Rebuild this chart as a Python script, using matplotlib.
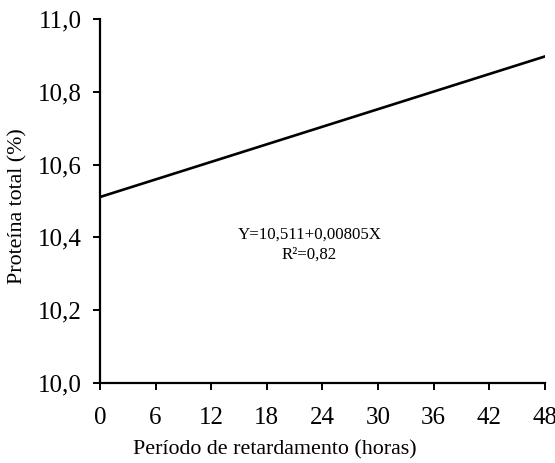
import matplotlib
matplotlib.use("Agg")
import matplotlib.pyplot as plt
import numpy as np

# fitted regression: protein (%) vs. delay period (hours)
intercept = 10.511
slope = 0.00805
r2 = 0.82
hours = np.arange(0, 49)
x_ticks = [0, 6, 12, 18, 24, 30, 36, 42, 48]
y_ticks = [10.0, 10.2, 10.4, 10.6, 10.8, 11.0]

plt.rcParams['font.family'] = ['Liberation Serif', 'DejaVu Serif']

fig = plt.figure(figsize=(5.55, 4.63), dpi=100)
ax = fig.add_axes([0.180, 0.1728, 0.802, 0.786])

ax.plot(hours, intercept + slope * hours, color='black', lw=1.9)

ax.set_xlim(0, 48)
ax.set_ylim(10.0, 11.0)
ax.set_xticks(x_ticks)
ax.set_yticks(y_ticks)
ax.set_yticklabels([f"{v:.1f}".replace('.', ',') for v in y_ticks])
ax.tick_params(direction='out', length=5, width=1.4, labelsize=18)
ax.tick_params(axis='x', pad=12)
ax.tick_params(axis='y', pad=8)

for s in ['top', 'right']:
    ax.spines[s].set_visible(False)
for s in ['left', 'bottom']:
    ax.spines[s].set_linewidth(1.6)

ax.set_xlabel('Período de retardamento (horas)', fontsize=15.8)
ax.xaxis.set_label_coords(0.393, -0.157)
ax.set_ylabel('Proteína total (%)', fontsize=15.8)
ax.yaxis.set_label_coords(-0.163, 0.486)

eq = f"Y={intercept:.3f}+{slope:.5f}X".replace('.', ',')
ax.text(22.6, 10.407, eq, ha='center', va='center', fontsize=12.2)
ax.text(22.6, 10.352, f"R²={r2:.2f}".replace('.', ','), ha='center', va='center', fontsize=12.2)

fig.savefig('out.png', dpi=100)
